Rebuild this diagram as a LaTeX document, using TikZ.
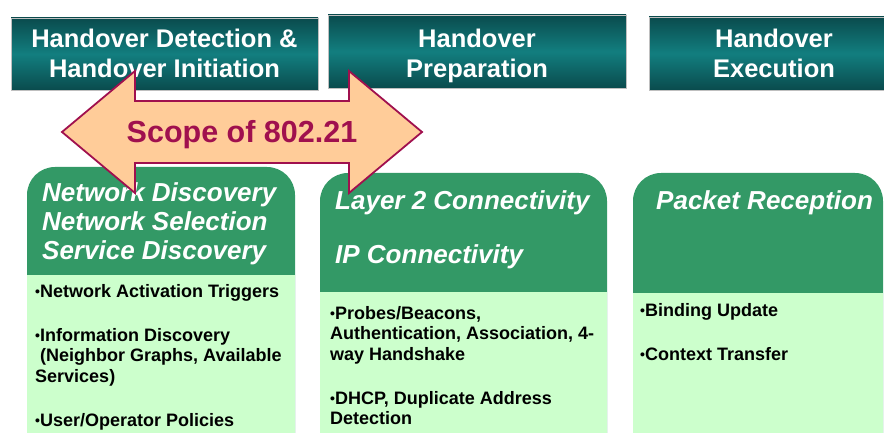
\documentclass[tikz,border=0pt]{standalone}
\usepackage{fontspec}
\setmainfont{Liberation Sans}
\definecolor{tealdark}{HTML}{0A4B4D}
\definecolor{teallight}{HTML}{127E7F}
\definecolor{phasegreen}{HTML}{339966}
\definecolor{palegreen}{HTML}{CCFFCC}
\definecolor{peach}{HTML}{FFCC99}
\definecolor{scopered}{HTML}{A0104E}
\newcommand\itemdot{{\fontsize{14}{14}\selectfont\raisebox{1pt}{•}}}

\begin{document}
\begin{tikzpicture}[x=1pt,y=-1pt,
  phase/.style={top color=tealdark,bottom color=tealdark,middle color=teallight,draw=black!25,line width=.6pt},
  phaselabel/.style={text=white,font=\fontsize{25.5}{30.5}\selectfont\bfseries,align=center,anchor=north,inner sep=0pt},
  tasklabel/.style={text=white,font=\fontsize{26}{29}\selectfont\bfseries\itshape,align=left,anchor=north west,inner sep=0pt},
  items/.style={font=\fontsize{18}{20.5}\selectfont\bfseries,align=left,anchor=north west,inner sep=0pt}]

\useasboundingbox (0,0) rectangle (884,433);

% handover phases
\shade[phase] (11,18) rectangle (318,90);
\shade[phase] (328,15) rectangle (626,88);
\shade[phase] (649,17) rectangle (884,90);
\node[phaselabel] (detect) at (164.5,28.4) {Handover Detection \&\\Handover Initiation};
\node[phaselabel] (prep) at (477,28.4) {Handover\\Preparation};
\node[phaselabel] (exec) at (774,28.4) {Handover\\Execution};

% tasks of each phase
\fill[phasegreen,rounded corners=28pt] (27,433) -- (27,167) -- (295,167) -- (295,433);
\fill[palegreen] (27,275) rectangle (295,433);
\fill[phasegreen,rounded corners=28pt] (320,433) -- (320,173) -- (607,173) -- (607,433);
\fill[palegreen] (320,292) rectangle (607,433);
\fill[phasegreen,rounded corners=28pt] (633,433) -- (633,173) -- (883,173) -- (883,433);
\fill[palegreen] (633,293) rectangle (883,433);

\node[tasklabel] (discover) at (42,182.7) {Network Discovery\\Network Selection\\Service Discovery};
\node[tasklabel] (connect) at (335,190.1) {Layer 2 Connectivity\\[25pt]IP Connectivity};
\node[tasklabel] (receive) at (656,190) {Packet Reception};

\node[items] (discoverlist) at (35,283.8) {\itemdot Network Activation Triggers\\[23.5pt]\itemdot Information Discovery\\\ (Neighbor Graphs, Available\\Services)\\[23.5pt]\itemdot User/Operator Policies};
\node[items] (connectlist) at (330,305.9) {\itemdot Probes/Beacons,\\Authentication, Association, 4-\\way Handshake\\[23.5pt]\itemdot DHCP, Duplicate Address\\Detection};
\node[items] (receivelist) at (640,303.6) {\itemdot Binding Update\\[23.5pt]\itemdot Context Transfer};

% scope arrow
\draw[fill=peach,draw=scopered,line width=1.8pt,line join=miter]
  (62,132) -- (135,71) -- (135,101) -- (349,101) -- (349,71) -- (422,132)
  -- (349,193) -- (349,163) -- (135,163) -- (135,193) -- cycle;
\node[text=scopered,font=\fontsize{30.5}{36}\selectfont\bfseries,anchor=base,inner sep=0pt] (scope) at (242,143) {Scope of 802.21};
\end{tikzpicture}
\end{document}
